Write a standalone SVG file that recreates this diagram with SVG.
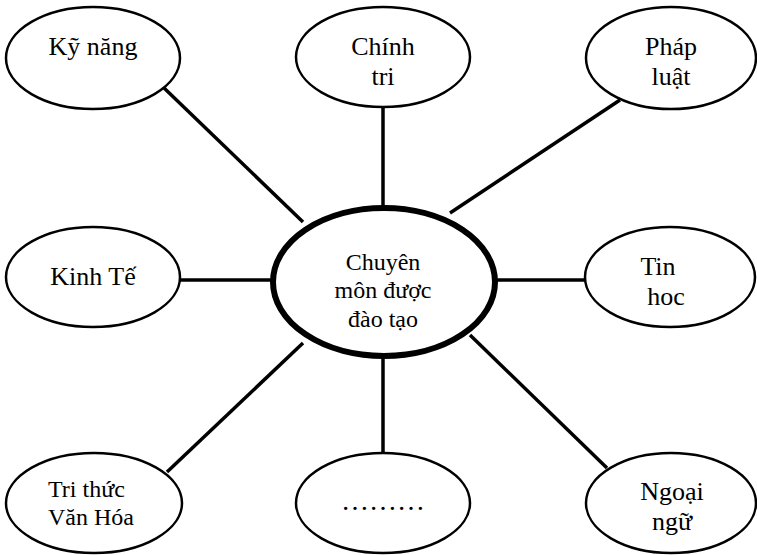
<svg xmlns="http://www.w3.org/2000/svg" width="757" height="555" viewBox="0 0 757 555" font-family="'Liberation Serif', 'DejaVu Serif', serif">
<style>
.n{fill:#fff;stroke:#000;stroke-width:2.5}
.c{fill:#fff;stroke:#000;stroke-width:6}
text{font-family:'Liberation Serif','DejaVu Serif',serif;font-size:26px;fill:#000;text-anchor:middle}
.s{font-size:24px}
.e{stroke:#000;stroke-width:3.5;fill:none}
</style>
<rect width="757" height="555" fill="#fff"/>
<g id="connectors">
<line class="e" x1="163" y1="87" x2="303" y2="222"/>
<line class="e" x1="383" y1="107" x2="383" y2="208"/>
<line class="e" x1="620" y1="100" x2="450" y2="213"/>
<line class="e" x1="180" y1="280" x2="273" y2="280"/>
<line class="e" x1="495" y1="280" x2="585" y2="280"/>
<line class="e" x1="167" y1="472" x2="303" y2="343"/>
<line class="e" x1="383" y1="357" x2="383" y2="453"/>
<line class="e" x1="607" y1="468" x2="470" y2="335"/>
</g>
<g id="node-ky-nang">
<ellipse class="n" cx="93" cy="58" rx="87" ry="51"/>
<text x="93" y="55">Kỹ năng</text>
</g>
<g id="node-chinh-tri">
<ellipse class="n" cx="383" cy="57" rx="87" ry="50"/>
<text x="383" y="55">Chính</text>
<text x="383" y="85">tri</text>
</g>
<g id="node-phap-luat">
<ellipse class="n" cx="671" cy="58" rx="85" ry="51"/>
<text x="671" y="55">Pháp</text>
<text x="671" y="85">luật</text>
</g>
<g id="node-kinh-te">
<ellipse class="n" cx="93" cy="277" rx="87" ry="50"/>
<text x="93" y="285">Kinh Tế</text>
</g>
<g id="node-tin-hoc">
<ellipse class="n" cx="670" cy="277" rx="85" ry="50"/>
<text x="658" y="275">Tin</text>
<text x="666" y="305">hoc</text>
</g>
<g id="node-tri-thuc">
<ellipse class="n" cx="94" cy="503" rx="88" ry="50"/>
<text class="s" x="48" y="497" style="text-anchor:start">Tri thức</text>
<text class="s" x="48" y="525" style="text-anchor:start">Văn Hóa</text>
</g>
<g id="node-dots">
<ellipse class="n" cx="383" cy="503" rx="87" ry="50"/>
<text x="383" y="510" style="font-size:28px">………</text>
</g>
<g id="node-ngoai-ngu">
<ellipse class="n" cx="671" cy="503" rx="85" ry="50"/>
<text x="672" y="500">Ngoại</text>
<text x="672" y="530">ngữ</text>
</g>
<g id="node-center">
<ellipse class="c" cx="384" cy="282" rx="111" ry="74"/>
<text class="s" x="383" y="270">Chuyên</text>
<text class="s" x="383" y="298">môn được</text>
<text class="s" x="383" y="327">đào tạo</text>
</g>
</svg>
